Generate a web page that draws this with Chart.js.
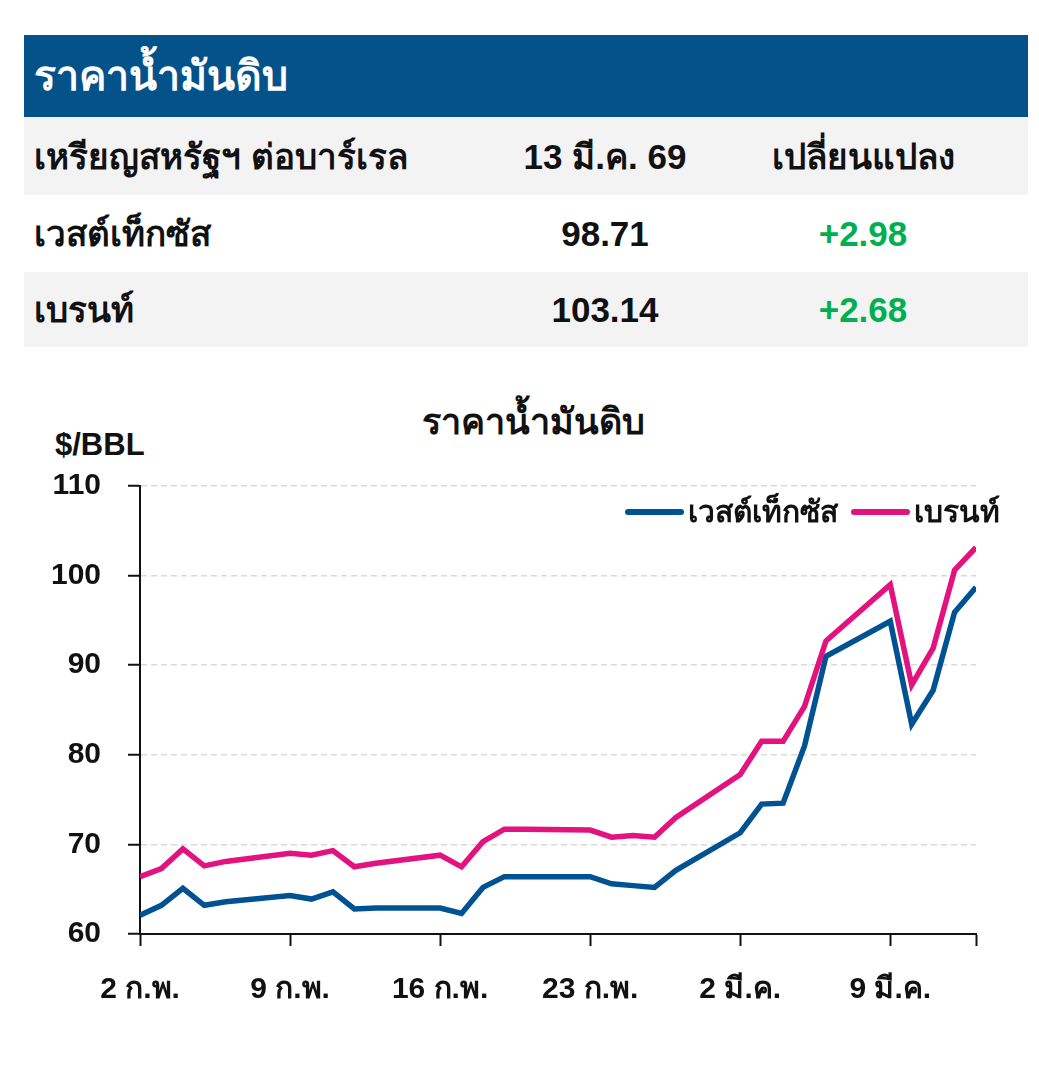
<!DOCTYPE html>
<html lang="th">
<head>
<meta charset="utf-8">
<title>ราคาน้ำมันดิบ</title>
<script src="https://cdn.jsdelivr.net/npm/chart.js@4.4.1/dist/chart.umd.min.js"></script>
<style>
  body { margin: 0; background: #fff; font-family: "Liberation Sans", "Noto Sans", sans-serif; font-weight: bold; color: #111; }
  .page { position: relative; width: 1039px; height: 1070px; }
  .banner { position: absolute; left: 24px; top: 35px; width: 1004px; height: 82px; background: #03528a; color: #fff; font-size: 41px; line-height: 82px; padding-left: 10px; box-sizing: border-box; }
  .row { position: absolute; left: 24px; width: 1004px; display: grid; grid-template-columns: 456px 250px 266px 32px; font-size: 35px; align-items: center; }
  .row div:first-child { padding-left: 10px; }
  .row .c { text-align: center; }
  .gray { background: #f3f3f3; }
  .up { color: #00b050; }
  .title { position: absolute; left: 333px; width: 400px; top: 393px; text-align: center; font-size: 36px; }
  .unit { position: absolute; left: 55px; top: 427px; font-size: 31px; }
  .legend { position: absolute; right: 39px; top: 488px; display: flex; align-items: center; font-size: 30px; }
  .legend span.sw { display: inline-block; width: 59px; height: 6px; border-radius: 3px; margin: 0 4px 0 13px; }
  #wrap { position: absolute; left: 0; top: 441px; width: 1039px; height: 589px; }
</style>
</head>
<body>
<div class="page">
  <div class="banner">ราคาน้ำมันดิบ</div>
  <div class="row gray" style="top:117px;height:78px"><div>เหรียญสหรัฐฯ ต่อบาร์เรล</div><div class="c">13 มี.ค. 69</div><div class="c">เปลี่ยนแปลง</div><div></div></div>
  <div class="row" style="top:195px;height:77px"><div>เวสต์เท็กซัส</div><div class="c">98.71</div><div class="c up">+2.98</div><div></div></div>
  <div class="row gray" style="top:272px;height:75px"><div>เบรนท์</div><div class="c">103.14</div><div class="c up">+2.68</div><div></div></div>

  <div class="title">ราคาน้ำมันดิบ</div>
  <div class="unit">$/BBL</div>
  <div id="wrap"><canvas id="chart"></canvas></div>
  <div class="legend" id="legend"></div>
</div>

<script>
// Trading days shown on the chart
const dates = [
  '2026-02-02', '2026-02-03', '2026-02-04', '2026-02-05', '2026-02-06',
  '2026-02-09', '2026-02-10', '2026-02-11', '2026-02-12', '2026-02-13',
  '2026-02-16', '2026-02-17', '2026-02-18', '2026-02-19', '2026-02-20',
  '2026-02-23', '2026-02-24', '2026-02-25', '2026-02-26', '2026-02-27',
  '2026-03-02', '2026-03-03', '2026-03-04', '2026-03-05', '2026-03-06',
  '2026-03-09', '2026-03-10', '2026-03-11', '2026-03-12', '2026-03-13'
];

// WTI, $/BBL
const wti = [
  62.1, 63.2, 65.1, 63.2, 63.6,
  64.3, 63.9, 64.7, 62.8, 62.9,
  62.9, 62.3, 65.2, 66.4, 66.4,
  66.4, 65.6, 65.4, 65.2, 67.1,
  71.3, 74.5, 74.6, 81.0, 91.0,
  94.9, 83.4, 87.2, 95.9, 98.71
];

// Brent, $/BBL
const brent = [
  66.4, 67.3, 69.5, 67.6, 68.1,
  69.0, 68.8, 69.3, 67.5, 67.9,
  68.8, 67.5, 70.3, 71.7, 71.7,
  71.6, 70.8, 71.0, 70.8, 73.0,
  77.8, 81.5, 81.5, 85.4, 92.7,
  99.0, 87.8, 91.9, 100.6, 103.14
];

const seriesNames = ['เวสต์เท็กซัส', 'เบรนท์'];
const seriesColors = ['#005292', '#e2137f'];

// x-axis: one tick per week
const tickLabels = ['2 ก.พ.', '9 ก.พ.', '16 ก.พ.', '23 ก.พ.', '2 มี.ค.', '9 มี.ค.'];
const yTicks = [60, 70, 80, 90, 100, 110];

const dayMs = 86400000;
const start = Date.parse(dates[0]);
const toPoints = values => values.map((v, i) => ({ x: (Date.parse(dates[i]) - start) / dayMs, y: v }));
const lastDay = (Date.parse(dates[dates.length - 1]) - start) / dayMs;

const fontFamily = '"Liberation Sans", "Noto Sans", sans-serif';

const chart = new Chart(document.getElementById('chart'), {
    type: 'line',
    data: {
        datasets: [wti, brent].map((vals, i) => ({
            label: seriesNames[i],
            data: toPoints(vals),
            borderColor: seriesColors[i],
            backgroundColor: seriesColors[i],
            borderWidth: 5.5,
            pointRadius: 0,
            tension: 0,
            borderJoinStyle: 'miter',
            order: 1 - i
        }))
    },
    options: {
        responsive: true,
        maintainAspectRatio: false,
        animation: false,
        layout: { padding: { left: 20, right: 63, top: 8, bottom: 16 } },
        plugins: {
            legend: { display: false },
            tooltip: { enabled: false }
        },
        scales: {
            x: {
                type: 'linear',
                min: 0,
                max: lastDay,
                afterFit: scale => { scale.height = 80; },
                grid: { drawOnChartArea: false, drawTicks: true, tickLength: 12, tickColor: '#111', tickWidth: 2 },
                border: { display: true, color: '#111', width: 2 },
                ticks: {
                    stepSize: 7,
                    padding: 26,
                    color: '#111',
                    font: { family: fontFamily, size: 30, weight: 'bold' },
                    callback: v => tickLabels[v / 7] || ''
                }
            },
            y: {
                min: yTicks[0],
                max: yTicks[yTicks.length - 1],
                afterFit: scale => { scale.width = 120; },
                grid: { color: '#d9d9d9', lineWidth: 1.5, tickLength: 12, tickColor: '#111', tickWidth: 2 },
                border: { display: true, color: '#111', width: 2, dash: [6, 4] },
                ticks: {
                    stepSize: 10,
                    padding: 27,
                    color: '#111',
                    font: { family: fontFamily, size: 30, weight: 'bold' }
                }
            }
        }
    }
});

// HTML legend built from the datasets
const legendEl = document.getElementById('legend');
chart.data.datasets.forEach(ds => {
    const sw = document.createElement('span');
    sw.className = 'sw';
    sw.style.background = ds.borderColor;
    legendEl.appendChild(sw);
    const txt = document.createElement('span');
    txt.textContent = ds.label;
    legendEl.appendChild(txt);
});
</script>
</body>
</html>
